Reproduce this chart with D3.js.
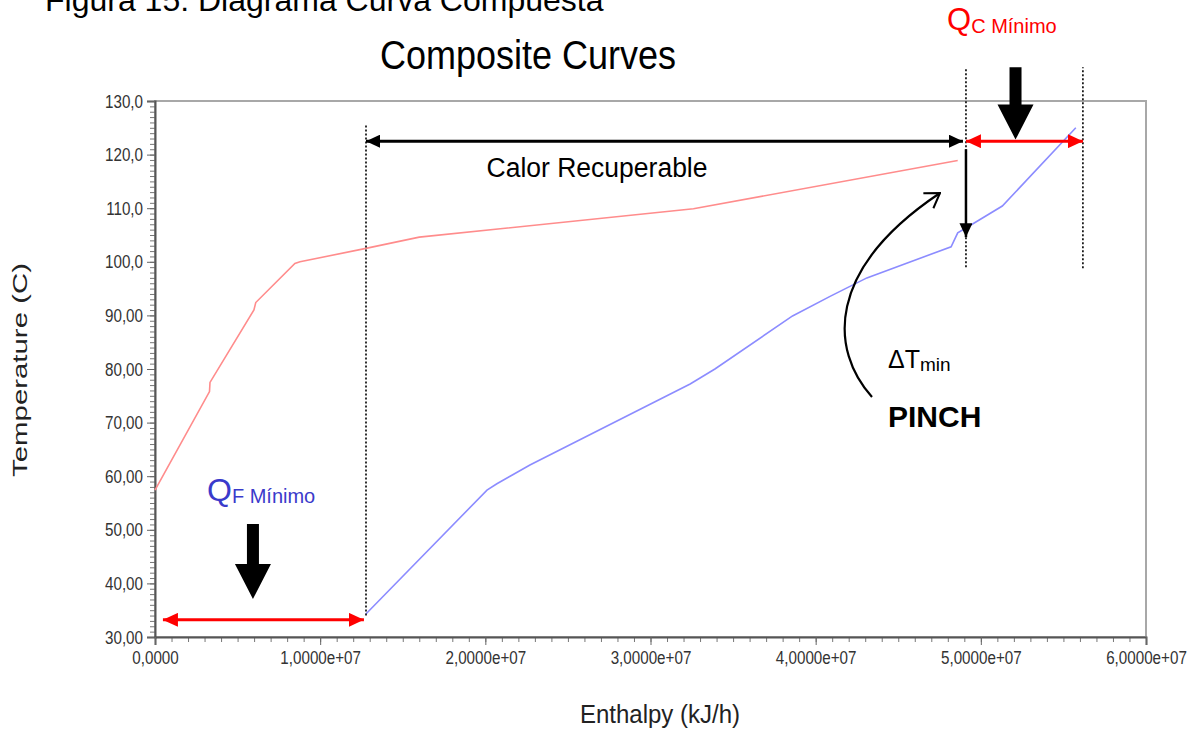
<!DOCTYPE html>
<html>
<head>
<meta charset="utf-8">
<script src="https://cdn.jsdelivr.net/npm/d3@7"></script>
<style>
  body { margin: 0; background: #fff; }
  svg { display: block; }
</style>
</head>
<body>
<div id="chart"></div>
<script>
// hot composite curve (enthalpy kJ/h, temperature C)
const hotH = [0, 3.30e6, 3.33e6, 5.99e6, 6.10e6, 8.47e6, 8.78e6, 1.277e7, 1.60e7, 3.26e7, 4.86e7];
const hotT = [57.4, 75.8, 77.5, 91.0, 92.4, 99.7, 100.0, 102.5, 104.6, 109.9, 118.9];

// cold composite curve
const coldH = [1.277e7, 2.01e7, 2.07e7, 2.15e7, 2.27e7, 3.24e7, 3.39e7, 3.86e7, 4.09e7, 4.31e7, 4.82e7, 4.86e7, 4.91e7, 5.13e7, 5.575e7];
const coldT = [34.3, 57.4, 58.6, 60.0, 62.1, 77.2, 80.0, 89.9, 93.6, 97.0, 102.8, 105.4, 106.3, 110.4, 125.0];

const xTicks = [0, 1e7, 2e7, 3e7, 4e7, 5e7, 6e7];
const xTickLabels = ["0,0000", "1,0000e+07", "2,0000e+07", "3,0000e+07", "4,0000e+07", "5,0000e+07", "6,0000e+07"];
const yTicks = [30, 40, 50, 60, 70, 80, 90, 100, 110, 120, 130];
const yTickLabels = ["30,00", "40,00", "50,00", "60,00", "70,00", "80,00", "90,00", "100,0", "110,0", "120,0", "130,0"];

// annotation anchors (data units)
const recovStartH = 1.2775e7, pinchH = 4.91e7, qcEndH = 5.618e7;

let width = 1196, height = 731,
  margin = ({ top: 101, right: 50, bottom: 94, left: 155 });

const sans = "'Liberation Sans', Arial, sans-serif";

let x = d3.scaleLinear()
  .domain([0, 6e7])
  .range([margin.left, width - margin.right]);

let y = d3.scaleLinear()
  .domain([30, 130])
  .range([height - margin.bottom, margin.top]);

const svg = d3.select("#chart")
  .append("svg")
  .attr("width", width)
  .attr("height", height)
  .attr("viewBox", [0, 0, width, height]);

const defs = svg.append("defs");
function head(id, color, len, wid) {
  defs.append("marker")
    .attr("id", id)
    .attr("markerUnits", "userSpaceOnUse")
    .attr("viewBox", `0 0 ${len} ${wid}`)
    .attr("refX", len).attr("refY", wid / 2)
    .attr("markerWidth", len).attr("markerHeight", wid)
    .attr("orient", "auto-start-reverse")
    .append("path")
    .attr("d", `M0,0L${len},${wid / 2}L0,${wid}Z`)
    .attr("fill", color);
}
head("hb", "#000", 14, 13);
head("hr", "#ff0000", 15, 14);
defs.append("marker")
  .attr("id", "open")
  .attr("markerUnits", "userSpaceOnUse")
  .attr("viewBox", "0 0 16 20")
  .attr("refX", 15).attr("refY", 10)
  .attr("markerWidth", 16).attr("markerHeight", 20)
  .attr("orient", "auto")
  .append("path")
  .attr("d", "M1,1L15,10L1,19")
  .attr("fill", "none")
  .attr("stroke", "#000")
  .attr("stroke-width", 2);

// caption and title
svg.append("text")
  .attr("x", 45).attr("y", 11)
  .attr("font-family", sans).attr("font-size", 32)
  .text("Figura 15: Diagrama Curva Compuesta");

svg.append("text")
  .attr("x", 528).attr("y", 69)
  .attr("text-anchor", "middle")
  .attr("font-family", sans).attr("font-size", 41)
  .attr("textLength", 296).attr("lengthAdjust", "spacingAndGlyphs")
  .text("Composite Curves");

// plot frame
svg.append("rect")
  .attr("x", margin.left).attr("y", margin.top)
  .attr("width", width - margin.right - margin.left)
  .attr("height", height - margin.bottom - margin.top)
  .attr("fill", "none")
  .attr("stroke", "#a8a8a8")
  .attr("stroke-width", 2);

// minor ticks
svg.append("g")
  .attr("transform", `translate(${margin.left},0)`)
  .call(d3.axisLeft(y).tickValues(d3.range(30, 131, 1)).tickSize(5).tickFormat(""))
  .call(g => g.select(".domain").remove())
  .call(g => g.selectAll("line").attr("stroke", "#777"));

svg.append("g")
  .attr("transform", `translate(0,${height - margin.bottom})`)
  .call(d3.axisBottom(x).tickValues(d3.range(0, 6.01e7, 1e6)).tickSize(5).tickFormat(""))
  .call(g => g.select(".domain").remove())
  .call(g => g.selectAll("line").attr("stroke", "#777"));

// major ticks + labels (condensed like the original narrow face)
svg.append("g")
  .attr("transform", `translate(${margin.left},0)`)
  .call(d3.axisLeft(y).tickValues(yTicks).tickSize(8).tickPadding(7)
    .tickFormat((d, i) => yTickLabels[i]))
  .call(g => g.select(".domain").attr("stroke", "#555").attr("stroke-width", 2))
  .call(g => g.selectAll("line").attr("stroke", "#666"))
  .call(g => g.selectAll("text").attr("font-family", sans).attr("font-size", 19)
    .attr("fill", "#333").attr("transform", "scale(0.8,1)"));

svg.append("g")
  .attr("transform", `translate(0,${height - margin.bottom})`)
  .call(d3.axisBottom(x).tickValues(xTicks).tickSize(8).tickPadding(6)
    .tickFormat((d, i) => xTickLabels[i]))
  .call(g => g.select(".domain").attr("stroke", "#555").attr("stroke-width", 2))
  .call(g => g.selectAll("line").attr("stroke", "#666"))
  .call(g => g.selectAll("text").attr("font-family", sans).attr("font-size", 19)
    .attr("fill", "#333").attr("transform", "scale(0.8,1)"));

// axis titles
svg.append("text")
  .attr("transform", `translate(27,${370}) rotate(-90)`)
  .attr("text-anchor", "middle")
  .attr("font-family", sans).attr("font-size", 20)
  .attr("textLength", 214).attr("lengthAdjust", "spacingAndGlyphs")
  .attr("fill", "#222")
  .text("Temperature (C)");

svg.append("text")
  .attr("x", 660).attr("y", 723)
  .attr("text-anchor", "middle")
  .attr("font-family", sans).attr("font-size", 25)
  .attr("textLength", 160).attr("lengthAdjust", "spacingAndGlyphs")
  .attr("fill", "#222")
  .text("Enthalpy (kJ/h)");

// curves
let line = d3.line()
  .x(d => x(d[0]))
  .y(d => y(d[1]));

svg.append("path")
  .datum(d3.zip(hotH, hotT))
  .attr("fill", "none")
  .attr("stroke", "#ff8c8c")
  .attr("stroke-width", 1.6)
  .attr("d", line);

svg.append("path")
  .datum(d3.zip(coldH, coldT))
  .attr("fill", "none")
  .attr("stroke", "#8c8cff")
  .attr("stroke-width", 1.6)
  .attr("d", line);

// dotted guides
function dotted(h, t0, t1) {
  svg.append("line")
    .attr("x1", x(h)).attr("x2", x(h))
    .attr("y1", y(t0)).attr("y2", y(t1))
    .attr("stroke", "#000")
    .attr("stroke-width", 1.6)
    .attr("stroke-dasharray", "2,2");
}
dotted(recovStartH, 34.0, 125.5);
dotted(pinchH, 99.0, 136.3);
dotted(qcEndH, 98.8, 136.3);

// Calor recuperable arrow
svg.append("line")
  .attr("x1", x(recovStartH)).attr("x2", x(pinchH) - 3)
  .attr("y1", y(122.5)).attr("y2", y(122.5))
  .attr("stroke", "#000").attr("stroke-width", 3)
  .attr("marker-start", "url(#hb)").attr("marker-end", "url(#hb)");

svg.append("text")
  .attr("x", 597).attr("y", 177)
  .attr("text-anchor", "middle")
  .attr("font-family", sans).attr("font-size", 27)
  .attr("textLength", 221).attr("lengthAdjust", "spacingAndGlyphs")
  .text("Calor Recuperable");

// Qc minimum arrow
svg.append("line")
  .attr("x1", x(pinchH)).attr("x2", x(qcEndH))
  .attr("y1", y(122.5)).attr("y2", y(122.5))
  .attr("stroke", "#ff0000").attr("stroke-width", 3)
  .attr("marker-start", "url(#hr)").attr("marker-end", "url(#hr)");

// Qf minimum arrow
svg.append("line")
  .attr("x1", x(0.48e6)).attr("x2", x(1.265e7))
  .attr("y1", y(33.2)).attr("y2", y(33.2))
  .attr("stroke", "#ff0000").attr("stroke-width", 3)
  .attr("marker-start", "url(#hr)").attr("marker-end", "url(#hr)");

// pinch vertical arrow
svg.append("line")
  .attr("x1", x(pinchH)).attr("x2", x(pinchH))
  .attr("y1", y(121)).attr("y2", y(104.6))
  .attr("stroke", "#000").attr("stroke-width", 2.5)
  .attr("marker-end", "url(#hb)");

// big block arrows
function blockArrow(h, tTop, tTip) {
  const cx = x(h), top = y(tTop), tip = y(tTip), hl = 35;
  svg.append("path")
    .attr("d", `M${cx - 6},${top}L${cx + 6},${top}L${cx + 6},${tip - hl}L${cx + 18},${tip - hl}L${cx},${tip}L${cx - 18},${tip - hl}L${cx - 6},${tip - hl}Z`)
    .attr("fill", "#000");
}
blockArrow(5.21e7, 136.3, 122.8);
blockArrow(5.93e6, 51.1, 37.1);

// curved arrow to the pinch
svg.append("path")
  .attr("d", "M872,397C830,350 825,270 940,193")
  .attr("fill", "none")
  .attr("stroke", "#000")
  .attr("stroke-width", 2.2)
  .attr("marker-end", "url(#open)");

// labels
const dt = svg.append("text")
  .attr("x", 888).attr("y", 368)
  .attr("font-family", sans).attr("font-size", 25);
dt.append("tspan").text("\u0394T");
dt.append("tspan").attr("font-size", 19).attr("dy", 3).text("min");

svg.append("text")
  .attr("x", 888).attr("y", 427)
  .attr("font-family", sans).attr("font-size", 30).attr("font-weight", "bold")
  .text("PINCH");

const qf = svg.append("text")
  .attr("x", 207).attr("y", 501)
  .attr("font-family", sans).attr("font-size", 32)
  .attr("fill", "#3a3acb");
qf.append("tspan").text("Q");
qf.append("tspan").attr("font-size", 20).attr("dy", 2).text("F Mínimo");

const qc = svg.append("text")
  .attr("x", 947).attr("y", 30)
  .attr("font-family", sans).attr("font-size", 31)
  .attr("fill", "#ff0000");
qc.append("tspan").text("Q");
qc.append("tspan").attr("font-size", 20).attr("dy", 3).text("C Mínimo");
</script>
</body>
</html>
